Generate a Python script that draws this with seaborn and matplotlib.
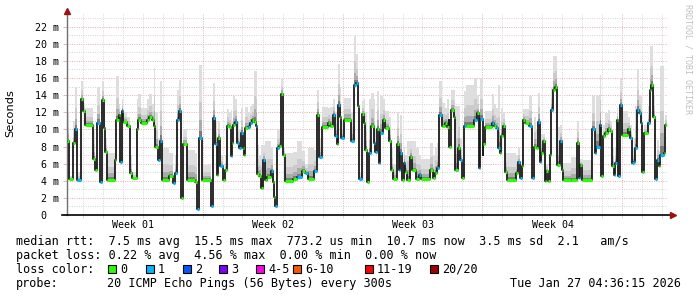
import numpy as np
import matplotlib
matplotlib.use("Agg")
import matplotlib.pyplot as plt
import seaborn as sns
from matplotlib.patches import Rectangle
from matplotlib.lines import Line2D

# ---------------- data ----------------
seg_start_day = [
    0.00, 0.12, 0.30, 0.40, 0.52, 0.70, 0.80, 0.88, 1.28, 1.38, 1.52, 1.63, 1.73, 1.83, 1.92,
    2.00, 2.42, 2.47, 2.58, 2.67, 2.73, 2.82, 3.02, 3.17, 3.25, 3.50, 3.57, 3.68, 4.00, 4.12,
    4.25, 4.33, 4.42, 4.55, 4.65, 4.73, 5.12, 5.28, 5.42, 5.50, 5.62, 5.72, 5.82, 6.02, 6.38,
    6.52, 6.62, 6.75, 7.22, 7.32, 7.42, 7.48, 7.55, 7.65, 7.80, 7.92, 8.00, 8.12, 8.20, 8.25,
    8.32, 8.42, 8.52, 8.62, 8.68, 8.78, 8.83, 8.92, 9.05, 9.17, 9.25, 9.37, 9.43, 9.52, 9.62,
    9.70, 9.78, 9.88, 10.00, 10.22, 10.28, 10.35, 10.40, 10.50, 10.62, 10.70, 10.80, 10.88, 11.28, 11.50,
    11.75, 11.88, 12.05, 12.33, 12.52, 12.62, 12.75, 13.03, 13.17, 13.28, 13.42, 13.52, 13.55, 13.63, 13.72,
    13.85, 14.22, 14.33, 14.47, 14.55, 14.62, 14.75, 14.83, 14.92, 15.00, 15.12, 15.22, 15.33, 15.42, 15.50,
    15.58, 15.67, 15.78, 15.92, 16.12, 16.22, 16.28, 16.48, 16.58, 16.67, 16.75, 16.85, 16.92, 17.02, 17.17,
    17.25, 17.45, 17.58, 17.72, 18.17, 18.28, 18.38, 18.50, 18.62, 18.75, 18.88, 19.00, 19.08, 19.12, 19.22,
    19.33, 19.42, 19.53, 19.63, 19.75, 19.85, 19.95, 20.33, 20.50, 20.58, 20.67, 20.78, 20.82, 20.88, 21.25,
    21.35, 21.45, 21.55, 21.63, 21.72, 21.80, 21.88, 21.98, 22.45, 22.55, 22.65, 22.75, 22.78, 22.92, 23.12,
    23.25, 23.35, 23.47, 23.55, 23.63, 23.72, 23.80, 23.88, 23.97, 24.05, 24.13, 24.22, 24.32, 24.42, 24.52,
    24.63, 24.75, 24.80, 25.20, 25.50, 25.58, 25.67, 25.75, 26.25, 26.38, 26.47, 26.63, 26.72, 26.80, 26.92,
    27.03, 27.17, 27.25, 27.33, 27.42, 27.48, 27.57, 27.63, 27.75, 28.05, 28.17, 28.25, 28.35, 28.42, 28.50,
    28.62, 28.68, 28.75, 28.83, 29.05, 29.13, 29.22, 29.30, 29.38, 29.50, 29.58, 29.67, 29.83, 29.88,
]
median_ms = [
    8.6, 4.2, 8.4, 10.0, 4.1, 13.5, 12.1, 10.5, 6.5, 5.3, 10.8, 3.8, 13.4, 10.2, 7.4,
    4.1, 6.4, 11.1, 11.7, 6.2, 12.2, 10.9, 10.4, 4.9, 4.3, 10.0, 11.1, 10.8, 11.1, 11.4,
    11.1, 10.4, 7.9, 6.4, 8.7, 4.1, 4.5, 3.7, 4.9, 11.1, 12.1, 2.0, 8.3, 4.1, 3.9,
    0.7, 9.0, 4.1, 1.0, 11.3, 8.3, 4.7, 9.0, 5.7, 4.1, 5.2, 10.4, 10.3, 6.9, 8.4,
    10.5, 10.9, 8.4, 7.8, 9.6, 7.8, 7.0, 10.2, 10.3, 10.7, 11.1, 10.9, 10.4, 4.8, 4.6,
    3.1, 6.4, 4.1, 4.4, 5.1, 3.8, 2.1, 1.0, 7.8, 8.1, 14.1, 7.0, 4.0, 4.2, 4.4,
    5.1, 4.9, 4.2, 5.1, 11.7, 6.8, 10.3, 10.8, 10.4, 11.7, 9.2, 8.3, 12.9, 11.5, 9.0,
    11.1, 8.6, 15.2, 15.4, 12.7, 4.2, 11.8, 10.7, 7.6, 3.9, 7.2, 10.4, 8.4, 7.4, 10.0,
    6.1, 9.6, 11.1, 10.2, 8.7, 5.3, 4.2, 8.3, 5.3, 7.3, 4.1, 6.1, 5.0, 4.1, 6.8,
    5.2, 4.2, 4.7, 4.2, 5.2, 4.3, 4.9, 5.5, 11.7, 10.4, 10.8, 10.3, 11.1, 8.0, 12.3,
    11.5, 5.3, 7.8, 6.4, 4.3, 10.4, 10.4, 11.1, 11.9, 5.5, 11.2, 7.0, 8.3, 10.3, 10.7,
    10.4, 10.2, 7.8, 7.2, 9.2, 10.4, 5.0, 4.1, 4.9, 6.2, 4.3, 5.7, 11.1, 10.7, 10.4,
    4.3, 8.0, 7.8, 10.9, 6.2, 7.2, 8.7, 4.0, 5.1, 4.0, 7.0, 12.3, 14.6, 15.0, 5.9,
    8.6, 5.3, 4.1, 4.1, 8.4, 4.3, 5.9, 4.1, 10.0, 7.2, 8.0, 10.5, 4.6, 9.2, 9.6,
    10.0, 9.8, 5.7, 4.7, 6.1, 11.1, 4.5, 12.8, 9.4, 10.0, 9.0, 6.1, 6.2, 7.8, 12.3,
    11.9, 10.7, 5.0, 9.6, 10.7, 14.6, 15.2, 11.5, 4.2, 6.4, 5.7, 7.0, 7.2, 10.5,
]
loss_count = [
    0, 0, 0, 1, 1, 0, 0, 0, 0, 0, 1, 1, 0, 0, 0,
    0, 0, 0, 0, 1, 1, 0, 0, 0, 0, 0, 0, 0, 0, 0,
    0, 0, 0, 1, 1, 0, 0, 1, 1, 1, 1, 0, 0, 0, 0,
    1, 1, 0, 1, 1, 1, 0, 0, 1, 0, 0, 0, 0, 1, 0,
    0, 1, 1, 1, 1, 0, 0, 0, 1, 1, 0, 0, 1, 0, 0,
    0, 1, 0, 0, 1, 0, 0, 1, 1, 0, 0, 0, 0, 0, 1,
    0, 1, 0, 1, 0, 1, 0, 0, 0, 1, 1, 0, 1, 0, 1,
    0, 1, 1, 1, 0, 1, 0, 0, 0, 0, 1, 0, 1, 1, 0,
    1, 1, 0, 0, 0, 0, 0, 0, 1, 1, 0, 1, 0, 0, 0,
    0, 0, 1, 0, 0, 0, 0, 1, 1, 0, 0, 0, 0, 0, 0,
    0, 0, 0, 1, 0, 1, 0, 1, 0, 1, 1, 0, 0, 0, 1,
    0, 1, 1, 0, 0, 0, 0, 0, 0, 1, 1, 0, 0, 0, 1,
    1, 0, 0, 1, 1, 0, 0, 0, 0, 0, 0, 1, 0, 0, 0,
    1, 0, 0, 0, 0, 1, 0, 0, 1, 1, 1, 1, 0, 0, 0,
    0, 0, 0, 1, 1, 0, 1, 1, 0, 0, 1, 1, 1, 1, 1,
    1, 1, 0, 0, 1, 0, 0, 0, 1, 1, 0, 1, 0, 0,
]
smoke_max_ms = [
    11.9, 4.6, 11.0, 15.0, 5.0, 15.6, 13.1, 12.5, 10.0, 7.0, 15.0, 4.2, 15.6, 12.0, 9.0,
    7.2, 9.0, 16.2, 13.0, 9.0, 13.5, 12.0, 11.5, 7.0, 5.0, 13.5, 14.1, 12.5, 13.5, 14.1,
    13.0, 17.2, 12.0, 9.0, 15.6, 7.8, 7.2, 4.5, 7.0, 14.6, 15.8, 3.0, 10.0, 7.6, 7.3,
    1.5, 17.5, 5.9, 2.0, 15.4, 11.0, 6.0, 11.0, 7.0, 5.0, 7.0, 12.4, 12.0, 12.3, 11.0,
    13.9, 13.6, 11.0, 10.0, 12.5, 9.5, 9.0, 12.6, 12.0, 12.7, 13.0, 16.8, 16.8, 8.2, 7.0,
    8.2, 8.2, 8.6, 8.6, 8.0, 5.0, 4.0, 1.5, 10.0, 10.0, 15.9, 8.0, 7.2, 7.4, 8.6,
    7.5, 6.0, 7.8, 7.6, 14.6, 9.0, 12.6, 12.5, 12.6, 13.5, 12.0, 10.0, 17.6, 15.0, 11.0,
    13.7, 12.0, 20.9, 18.8, 13.5, 5.0, 13.3, 13.5, 12.0, 5.0, 13.5, 14.3, 13.6, 10.0, 14.5,
    9.0, 13.9, 13.5, 12.1, 11.5, 8.0, 6.0, 12.0, 9.0, 11.7, 5.0, 8.0, 7.0, 8.6, 8.6,
    8.6, 7.8, 7.0, 6.6, 8.4, 7.0, 8.0, 8.4, 15.6, 13.1, 12.5, 13.5, 13.7, 10.0, 14.6,
    14.6, 12.7, 12.7, 9.0, 6.0, 14.5, 15.2, 16.0, 14.0, 11.7, 16.0, 10.0, 10.0, 12.1, 14.1,
    13.0, 12.5, 15.2, 9.0, 12.5, 12.0, 7.2, 7.2, 7.0, 7.8, 5.5, 11.3, 12.4, 12.4, 13.9,
    5.0, 11.5, 10.0, 14.3, 10.0, 9.5, 9.5, 4.5, 6.0, 5.0, 8.0, 15.0, 18.6, 18.6, 10.3,
    10.5, 7.0, 6.1, 6.8, 11.0, 6.0, 6.5, 6.4, 13.9, 10.0, 13.9, 16.4, 9.0, 10.5, 11.9,
    12.3, 11.0, 8.0, 6.0, 8.0, 12.5, 8.0, 16.0, 12.1, 11.5, 10.5, 8.0, 9.0, 12.7, 17.0,
    14.0, 13.9, 8.0, 10.5, 12.7, 19.7, 19.7, 13.9, 5.5, 8.8, 7.5, 17.4, 9.0, 11.7,
]
period_days = 30.0
week_labels = ["Week 01", "Week 02", "Week 03", "Week 04"]
ytick_values = list(range(0, 23, 2))
loss_labels = ["0", "1", "2", "3", "4-5", "6-10", "11-19", "20/20"]
loss_colors = ["#26ff00", "#00b8ff", "#0059ff", "#7e00ff", "#ff00ea", "#ff5500", "#ff0000", "#a10000"]
stats_line = "median rtt:  7.5 ms avg  15.5 ms max  773.2 us min  10.7 ms now  3.5 ms sd  2.1   am/s"
loss_line = "packet loss: 0.22 % avg  4.56 % max  0.00 % min  0.00 % now"
probe_text = "20 ICMP Echo Pings (56 Bytes) every 300s"
date_text = "Tue Jan 27 04:36:15 2026"

# ---------------- figure ----------------
W, H = 697, 297
fig = plt.figure(figsize=(W / 100, H / 100), dpi=100)
fig.patch.set_facecolor("white")
ax = fig.add_axes([67 / W, (H - 215) / H, 600 / W, (215 - 13) / H])
ax.set_facecolor("white")

t = np.array(seg_start_day + [period_days])
m = np.array(median_ms + [median_ms[-1]])
top = np.array(smoke_max_ms + [smoke_max_ms[-1]])
span = top - m

# grid
GRID_RED = "#efb2b2"
GRID_GRAY = "#d8d8d8"
for v in range(1, 24):
    ax.axhline(v, color=GRID_RED if v % 2 == 0 else GRID_GRAY, lw=0.72,
               linestyle=(0, (1, 1.3)), zorder=0)
day_lines = np.arange(0.775, period_days, 1.0)
for k, d in enumerate(day_lines):
    is_week = (k % 7) == 6
    ax.axvline(d, color=GRID_RED if is_week else GRID_GRAY, lw=0.72,
               linestyle=(0, (1, 1.3)), zorder=0)

# smoke
shades = [(1.0, "#dedede"), (0.5, "#cbcbcb"), (0.25, "#ababab"), (0.1, "#7a7a7a")]
for frac, col in shades:
    ax.fill_between(t, m, m + frac * span, step="post", color=col, lw=0, zorder=1)

# median
sns.lineplot(x=t, y=m, drawstyle="steps-post", color="#1a1a1a", lw=1.3,
             ax=ax, estimator=None, sort=False, zorder=3)
ax.hlines(median_ms, t[:-1], t[1:], colors=[loss_colors[l] for l in loss_count],
          lw=2.3, zorder=4)

ax.set_xlim(0, period_days)
ax.set_ylim(0, 23.6)

# axes styling
for s in ["top", "right"]:
    ax.spines[s].set_visible(False)
ax.spines["left"].set_color("#707070")
ax.spines["left"].set_linewidth(1.0)
ax.spines["bottom"].set_visible(False)
ax.add_line(Line2D([-5 / 600, 1.008], [0, 0], transform=ax.transAxes, color="black",
                   lw=1.2, clip_on=False, zorder=6))
ax.add_line(Line2D([0, 0], [1.0, 1.015], transform=ax.transAxes, color="#707070",
                   lw=1.0, clip_on=False, zorder=6))
ax.plot([0], [1.012], marker="^", ms=4.5, color="#a01010", transform=ax.transAxes,
        clip_on=False, zorder=7)
ax.plot([1.01], [0], marker=">", ms=4.5, color="#a01010", transform=ax.transAxes,
        clip_on=False, zorder=7)

mono = "DejaVu Sans Mono"
ax.set_yticks(ytick_values)
ax.set_yticklabels([("0  " if v == 0 else f"{v} m") for v in ytick_values],
                   family=mono, fontsize=7.2, color="black")
ax.tick_params(axis="y", length=3, width=0.7, color=GRID_RED, pad=3)
ax.set_xticks(day_lines)
ax.set_xticklabels([])
ax.tick_params(axis="x", length=2, width=0.7, color=GRID_GRAY)
for i, lab in enumerate(week_labels):
    ax.text(3.275 + 7 * i, -0.05, lab, transform=ax.get_xaxis_transform(),
            ha="center", va="center", family=mono, fontsize=7.2)
ax.set_xlabel("")
ax.set_ylabel("")

fig.text(10 / W, 1 - 113 / H, "Seconds", rotation=90, ha="center", va="center",
         family="DejaVu Sans", fontsize=8.2)
fig.text(688 / W, 1 - 4 / H, "RRDTOOL / TOBI OETIKER", rotation=270, ha="center",
         va="top", family=mono, fontsize=6.0, color="#c0c0c0")

# legend text
FS = 8.5
def row(y_px, s, x_px=16, ha="left"):
    fig.text(x_px / W, 1 - y_px / H, s, ha=ha, va="center", family=mono, fontsize=FS)

row(241, stats_line)
row(255, loss_line)
row(269.5, "loss color:")
row(283.5, "probe:")
row(283.5, probe_text, x_px=107)
row(283.5, date_text, x_px=681, ha="right")

box_x = [108, 146, 183, 219, 256, 293, 365, 430]
for bx, lab, col in zip(box_x, loss_labels, loss_colors):
    fig.patches.append(Rectangle((bx / W, 1 - 273 / H), 8 / W, 8 / H, transform=fig.transFigure,
                                 facecolor=col, edgecolor="black", lw=0.8))
    row(269.5, lab, x_px=bx + 12)

fig.savefig("out.png", dpi=100, facecolor="white")
